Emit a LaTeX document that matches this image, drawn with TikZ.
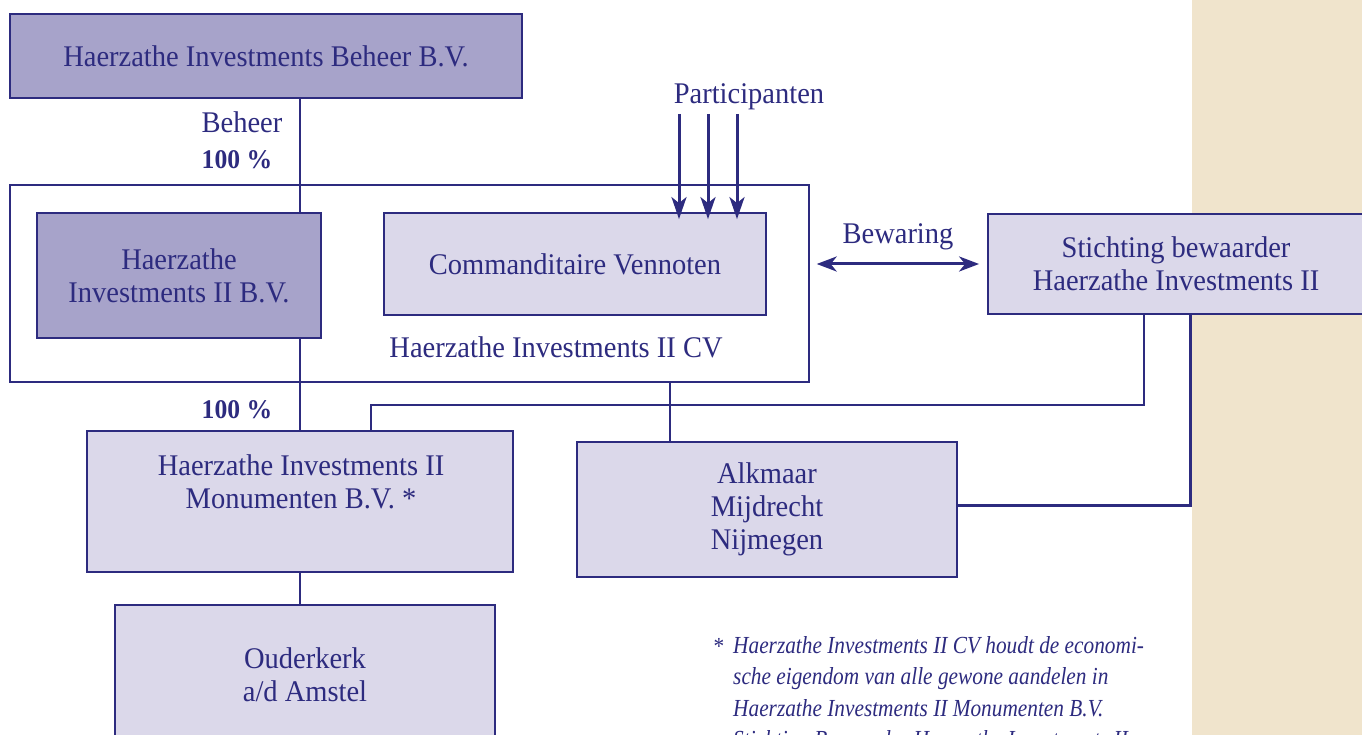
\documentclass[tikz,border=0pt]{standalone}
\usepackage{fontspec}
\setmainfont[FakeStretch=0.95]{Liberation Serif}
\newfontfamily\footfont[FakeStretch=0.87]{Liberation Serif}
\usetikzlibrary{arrows.meta,calc}
\definecolor{navy}{RGB}{45,43,127}
\definecolor{boxdark}{RGB}{167,163,202}
\definecolor{boxlight}{RGB}{219,216,234}
\definecolor{beige}{RGB}{240,228,204}
\begin{document}
\begin{tikzpicture}[x=1pt,y=-1pt,
  box/.style={draw=navy, line width=1.8pt, rectangle, inner sep=0pt, align=center, text=navy, font=\fontsize{30}{33}\selectfont},
  dark/.style={box, fill=boxdark},
  light/.style={box, fill=boxlight},
  conn/.style={draw=navy, line width=2.4pt},
  lbl/.style={text=navy, font=\fontsize{30}{33}\selectfont, inner sep=0pt, align=center},
  pct/.style={text=navy, font=\fontsize{27}{30}\selectfont\bfseries, inner sep=0pt},
  tip/.style={-{Stealth[length=22pt,width=15pt,inset=6pt]}},
]
\useasboundingbox (0,0) rectangle (1362,735);
\fill[beige] (1192,0) rectangle (1362,735);

% outer CV frame
\node[draw=navy, line width=1.4pt, fill=white, minimum width=799pt, minimum height=197pt, inner sep=0pt] (cv) at (409.5,283.5) {};

% boxes
\node[dark, minimum width=512pt, minimum height=84pt] (beheer) at (266,56) {Haerzathe Investments Beheer B.V.};
\node[dark, minimum width=284pt, minimum height=125pt] (iibv) at (179,275.5) {Haerzathe\\Investments II B.V.};
\node[light, minimum width=382pt, minimum height=102pt] (cvn) at (575,264) {Commanditaire Vennoten};
\node[light, minimum width=376pt, minimum height=100pt] (stich) at (1176,264) {Stichting bewaarder\\Haerzathe Investments II};
\node[light, minimum width=426pt, minimum height=141pt] (mon) at (300,501.5) {};
\node[lbl] (montxt) at (301,482) {Haerzathe Investments II\\Monumenten B.V. *};
\node[light, minimum width=380pt, minimum height=135pt] (alk) at (767,509.5) {Alkmaar\\Mijdrecht\\Nijmegen};
\node[light, minimum width=380pt, minimum height=140pt] (oud) at (305,675) {Ouderkerk\\a/d Amstel};

% labels
\node[lbl] (cvlbl) at (556,347) {Haerzathe Investments II CV};
\node[lbl] (beheerlbl) at (242,122) {Beheer};
\node[pct] (pct1) at (237,160) {100 \%};
\node[pct] (pct2) at (237,410) {100 \%};
\node[lbl] (part) at (749,97) {Participanten};
\node[lbl] (bew) at (898,237) {Bewaring};

% connectors
\draw[conn] (mon.north |- beheer.south) -- (mon.north |- iibv.north);
\draw[conn] (mon.north |- iibv.south) -- (mon.north);
\draw[conn] (mon.south) -- (mon.south |- oud.north);
\coordinate (cvtap) at (670,0);
\draw[conn] (cvtap |- cv.south) -- (cvtap |- alk.north);
\coordinate (s1) at (1144,0);
\coordinate (m1) at (371,0);
\coordinate (ybus) at (0,405);
\draw[conn, line width=2.8pt] (s1 |- stich.south) -- (s1 |- ybus) -- (m1 |- ybus) -- (m1 |- mon.north);
\coordinate (s2) at (1190,0);
\coordinate (ya) at (0,505);
\draw[conn, line width=3pt] (s2 |- stich.south) -- (s2 |- ya) -- (alk.east |- ya);

% participant arrows
\foreach \px [count=\i] in {679,708,737} {
  \coordinate (p\i) at (\px,114);
  \draw[conn, line width=3pt, tip, shorten >=-7pt] (p\i) -- (p\i |- cvn.north);
}
% Bewaring double arrow
\draw[conn, line width=3pt, {Stealth[length=20pt,width=15pt,inset=6pt]}-{Stealth[length=20pt,width=15pt,inset=6pt]}, shorten <=7pt, shorten >=8pt] (cv.east |- stich.west) -- (stich.west);

% footnote
\node[text=navy, font=\footfont\itshape\fontsize{24.5}{31.5}\selectfont, inner sep=0pt] (star) at (718,646) {*};
\node[text=navy, font=\footfont\itshape\fontsize{24.5}{31.5}\selectfont, align=left, anchor=north west, inner sep=0pt] (note) at (733,636) {Haerzathe Investments II CV houdt de economi-\\sche eigendom van alle gewone aandelen in\\Haerzathe Investments II Monumenten B.V.\\Stichting Bewaarder Haerzathe Investments II};
\end{tikzpicture}
\end{document}
